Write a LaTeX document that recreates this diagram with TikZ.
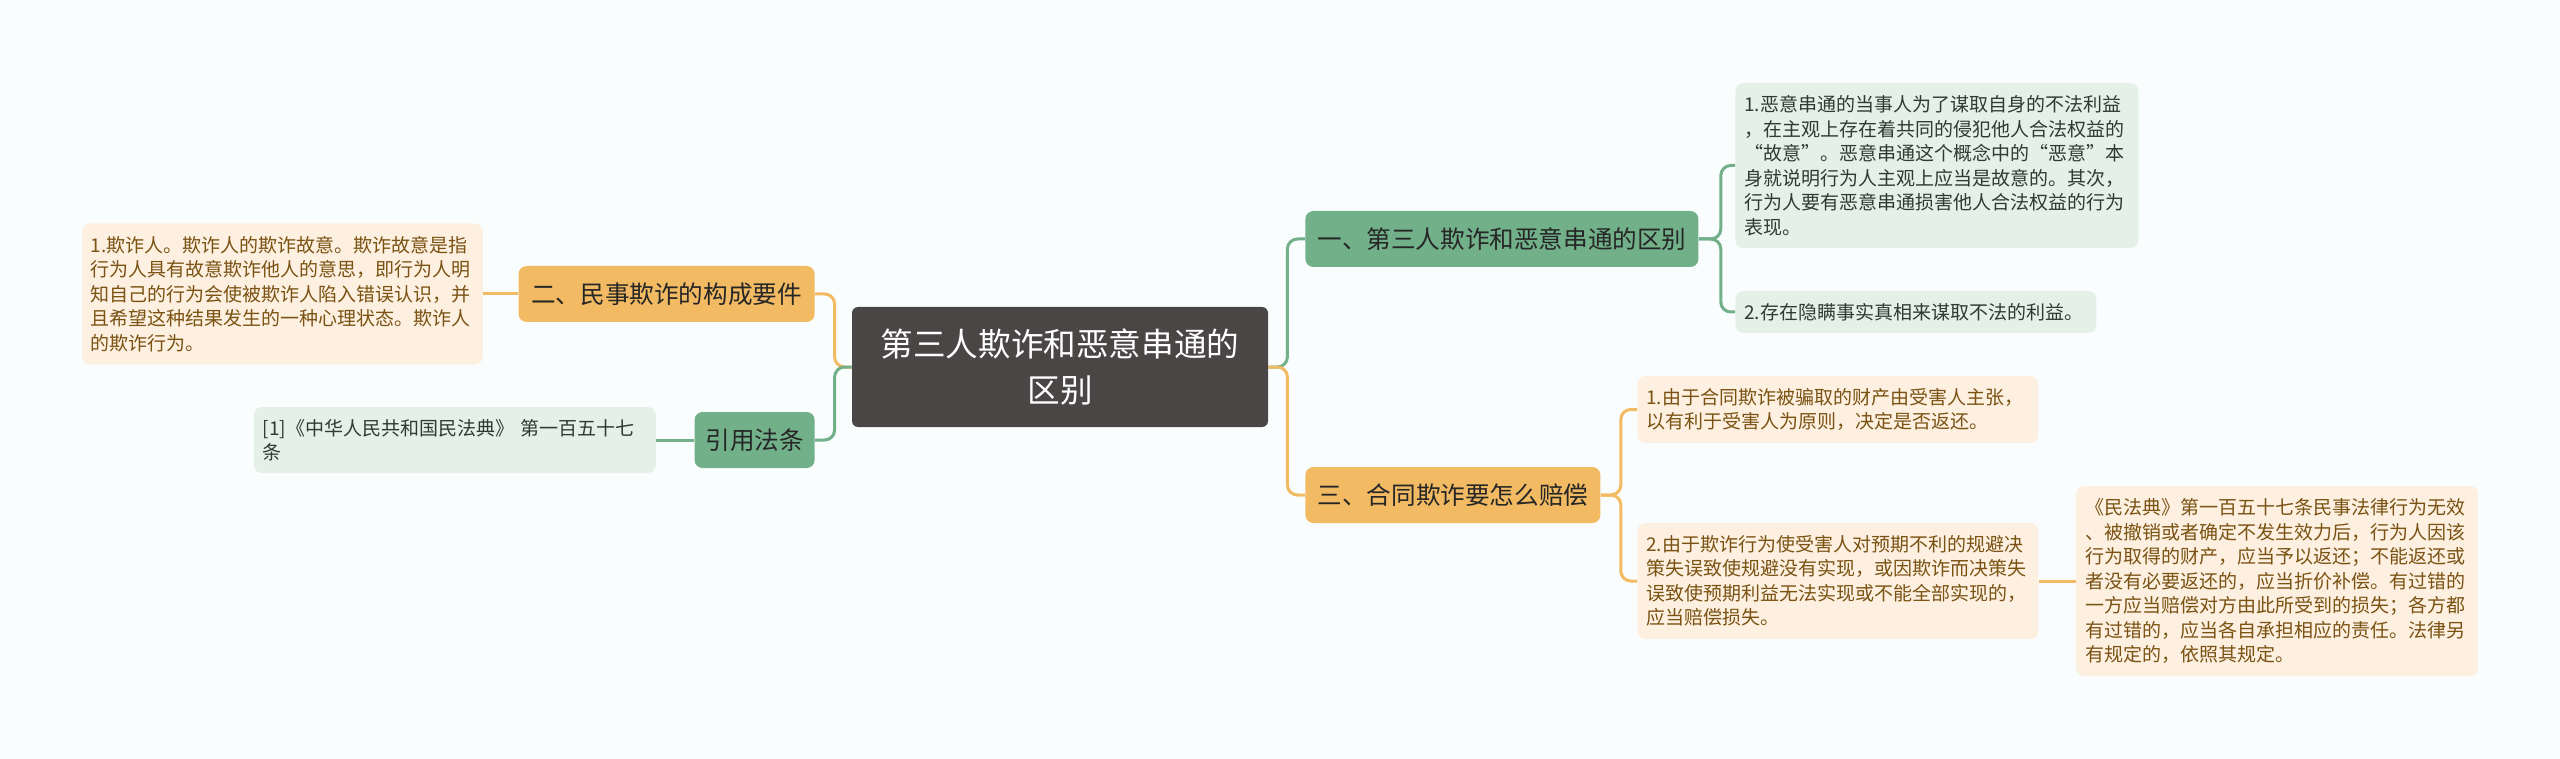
\documentclass[tikz,border=0pt]{standalone}
\usepackage{fontspec}
\newfontfamily\cjk{Noto Sans CJK SC}
\usepackage{xcolor}
\usetikzlibrary{positioning}

\definecolor{bgcol}{HTML}{FAFDFD}
\definecolor{darkcol}{HTML}{4B4646}
\definecolor{greencol}{HTML}{72B08A}
\definecolor{orangecol}{HTML}{F2BB63}
\definecolor{gleafcol}{HTML}{E4F0E8}
\definecolor{oleafcol}{HTML}{FDF0E1}
\definecolor{gtext}{HTML}{2E3B33}
\definecolor{otext}{HTML}{7A5212}

\begin{document}
\begin{tikzpicture}[
    x=0.5pt, y=-0.5pt,
    mainbox/.style={rectangle, fill=darkcol, text=white, rounded corners=3pt, minimum width=208pt, minimum height=60pt, align=center, font=\cjk\fontsize{16.3}{22.8}\selectfont},
    branch/.style={rectangle, rounded corners=4pt, minimum height=28pt, inner xsep=0pt, text=black!85, font=\cjk\fontsize{12.3}{14}\selectfont},
    gbranch/.style={branch, fill=greencol},
    obranch/.style={branch, fill=orangecol},
    leaf/.style={rectangle, rounded corners=4pt, inner xsep=4.5pt, inner ysep=0pt, align=left, font=\cjk\fontsize{9.5}{12.25}\selectfont},
    gleaf/.style={leaf, fill=gleafcol, text=gtext},
    oleaf/.style={leaf, fill=oleafcol, text=otext},
    gline/.style={draw=greencol, line width=1.5pt, rounded corners=5pt},
    oline/.style={draw=orangecol, line width=1.5pt, rounded corners=5pt}
]
    \fill[bgcol] (0,0) rectangle (2560,759);
    \useasboundingbox (0,0) rectangle (2560,759);

    % Nodes
    \node[mainbox] (root) at (1060,367) {第三人欺诈和恶意串通的\\区别};
    \node[gbranch, anchor=west, minimum width=196.5pt] (n1) at (1305,239) {一、第三人欺诈和恶意串通的区别};
    \node[obranch, anchor=west, minimum width=147.5pt] (n4) at (1305,495) {三、合同欺诈要怎么赔偿};
    \node[obranch, anchor=east, minimum width=148pt] (n2) at (815,294) {二、民事欺诈的构成要件};
    \node[gbranch, anchor=east, minimum width=60pt] (n3) at (815,440) {引用法条};

    % Leaves
    \node[gleaf, anchor=west, text width=192.5pt, minimum height=82.5pt] (r1) at (1735,165.5) {1.恶意串通的当事人为了谋取自身的不法利益\\，在主观上存在着共同的侵犯他人合法权益的\\“故意”。恶意串通这个概念中的“恶意”本\\身就说明行为人主观上应当是故意的。其次，\\行为人要有恶意串通损害他人合法权益的行为\\表现。};
    \node[gleaf, anchor=west, text width=171.5pt, minimum height=21pt] (r2) at (1735,312) {2.存在隐瞒事实真相来谋取不法的利益。};
    \node[oleaf, anchor=west, text width=191.5pt, minimum height=33.5pt] (r3) at (1637,409.5) {1.由于合同欺诈被骗取的财产由受害人主张，\\以有利于受害人为原则，决定是否返还。};
    \node[oleaf, anchor=west, text width=191.5pt, minimum height=58pt] (r4) at (1637,581) {2.由于欺诈行为使受害人对预期不利的规避决\\策失误致使规避没有实现，或因欺诈而决策失\\误致使预期利益无法实现或不能全部实现的，\\应当赔偿损失。};
    \node[oleaf, right=18.5pt of r4, text width=192pt, minimum height=95pt] (r5) {《民法典》第一百五十七条民事法律行为无效\\、被撤销或者确定不发生效力后，行为人因该\\行为取得的财产，应当予以返还；不能返还或\\者没有必要返还的，应当折价补偿。有过错的\\一方应当赔偿对方由此所受到的损失；各方都\\有过错的，应当各自承担相应的责任。法律另\\有规定的，依照其规定。};
    \node[oleaf, left=17.5pt of n2, text width=191.5pt, minimum height=70.5pt] (l1) {1.欺诈人。欺诈人的欺诈故意。欺诈故意是指\\行为人具有故意欺诈他人的意思，即行为人明\\知自己的行为会使被欺诈人陷入错误认识，并\\且希望这种结果发生的一种心理状态。欺诈人\\的欺诈行为。};
    \node[gleaf, left=19pt of n3, text width=192pt, minimum height=33pt] (l2) {[1]《中华人民共和国民法典》 第一百五十七\\条};

    % Connectors
    \draw[gline] (root.east) -- ++(9.5pt,0) |- (n1.west);
    \draw[oline] (root.east) -- ++(9.5pt,0) |- (n4.west);
    \draw[oline] (root.west) -- ++(-8.5pt,0) |- (n2.east);
    \draw[gline] (root.west) -- ++(-8.5pt,0) |- (n3.east);
    \draw[gline] (n1.east) -- ++(11pt,0) |- (r1.west);
    \draw[gline] (n1.east) -- ++(11pt,0) |- (r2.west);
    \draw[oline] (n4.east) -- ++(10pt,0) |- (r3.west);
    \draw[oline] (n4.east) -- ++(10pt,0) |- (r4.west);
    \draw[oline] (r4.east) -- (r5.west);
    \draw[oline] (n2.west) -- (l1.east);
    \draw[gline] (n3.west) -- (l2.east);
\end{tikzpicture}
\end{document}
